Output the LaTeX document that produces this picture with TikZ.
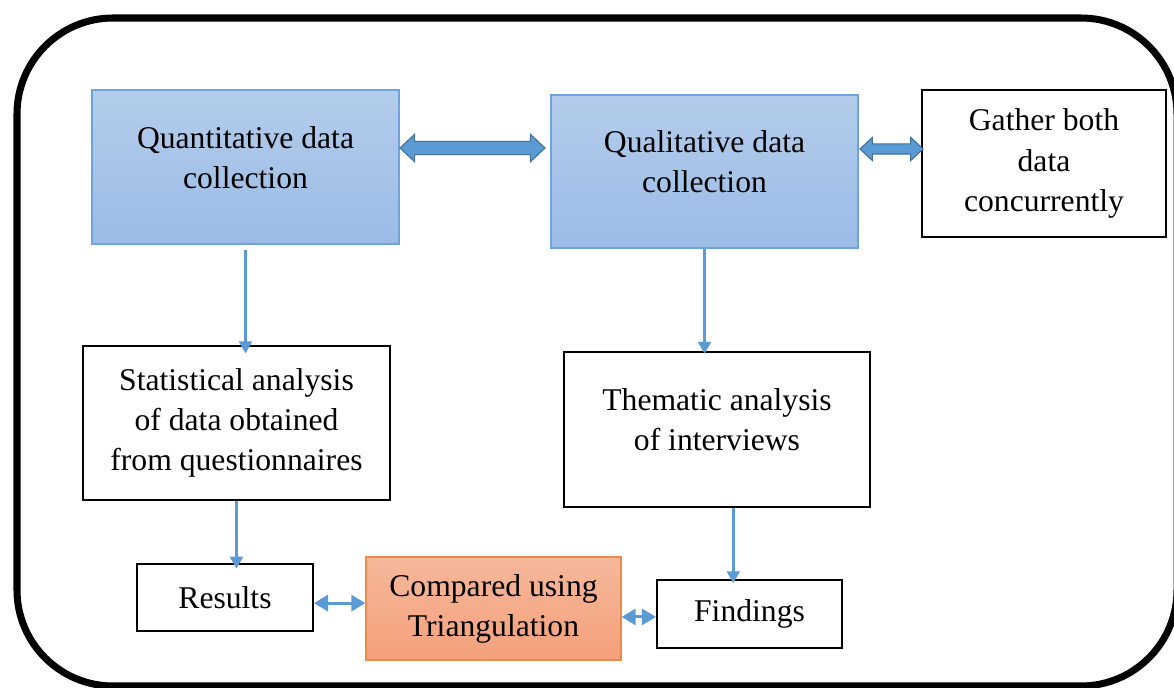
\documentclass[tikz,border=0pt]{standalone}
\usepackage{fontspec}
\setmainfont{Liberation Serif}
\usetikzlibrary{shapes.arrows,arrows.meta,calc}

\definecolor{linkblue}{HTML}{5B9BD5}
\definecolor{arrowedge}{HTML}{41719C}
\definecolor{boxblue}{HTML}{6FA3DB}
\definecolor{bluetop}{HTML}{B3CCEB}
\definecolor{bluebot}{HTML}{9BBCE6}
\definecolor{orangeedge}{HTML}{F08A48}
\definecolor{orangetop}{HTML}{F6B89A}
\definecolor{orangebot}{HTML}{F4A07C}

\begin{document}
\begin{tikzpicture}[x=0.025cm, y=-0.025cm]
\tikzstyle{basic}=[draw=black, line width=1.4pt, fill=white, align=center, inner sep=0pt, font=\fontsize{22.5}{28.5}\selectfont]
\tikzstyle{lifted}=[text depth=14pt]
\tikzstyle{collect}=[basic, lifted, draw=boxblue, line width=0.8pt, top color=bluetop, bottom color=bluebot]
\tikzstyle{compare}=[basic, draw=orangeedge, line width=0.8pt, top color=orangetop, bottom color=orangebot]
\tikzstyle{bigarrow}=[double arrow, draw=arrowedge, line width=0.8pt, fill=linkblue, inner xsep=0pt, inner ysep=4.3pt, double arrow head extend=5pt, double arrow tip angle=86]
\tikzstyle{smallarrow}=[bigarrow, inner ysep=3.2pt, double arrow head extend=4.6pt]
\tikzstyle{edgestyle}=[draw=linkblue, line width=2.1pt, -{Triangle[width=9pt, length=8.5pt]}]
\tikzstyle{bothstyle}=[draw=linkblue, line width=2.1pt, {Triangle[width=11.4pt, length=10pt]}-{Triangle[width=11.4pt, length=10pt]}]
\useasboundingbox (0,0) rectangle (1174,688);
\draw[line width=5pt, rounded corners=2.4cm] (17,18) rectangle (1177,686);

% top row
\node[collect, minimum width=7.675cm, minimum height=3.85cm] (quant) at (245.5,167) {Quantitative data\\collection};
\node[collect, minimum width=7.675cm, minimum height=3.825cm] (qual) at (704.5,171.5) {Qualitative data\\collection};
\node[basic, minimum width=6.1cm, minimum height=3.675cm] (gather) at (1044,163.5) {Gather both\\data\\concurrently};
\node[bigarrow, minimum height=3.625cm] (qq) at (472.5,148) {};
\node[smallarrow, minimum height=1.575cm] (qg) at (891.5,149) {};

% analysis
\node[basic, minimum width=7.675cm, minimum height=3.85cm] (stat) at (236.5,423) {Statistical analysis\\of data obtained\\from questionnaires};
\node[basic, lifted, minimum width=7.65cm, minimum height=3.875cm] (them) at (717,429.5) {Thematic analysis\\of interviews};
\draw (quant.south) edge[edgestyle, shorten <=4pt, shorten >=-6pt] (quant.south |- stat.north);
\draw (qual.south) edge[edgestyle, shorten >=-2pt] (qual.south |- them.north);

% bottom row
\node[basic, minimum width=4.4cm, minimum height=1.675cm] (results) at (225,597.5) {Results};
\node[compare, minimum width=6.375cm, minimum height=2.575cm] (compared) at (493.5,608.5) {Compared using\\Triangulation};
\node[basic, minimum width=4.625cm, minimum height=1.7cm] (findings) at (749.5,614) {Findings};
\draw (stat.south) edge[edgestyle, shorten >=-4pt] (stat.south |- results.north);
\draw ($(them.south)!.5!(them.south -| findings.north)$) edge[edgestyle, shorten >=-3pt] ($(findings.north)!.5!(findings.north -| them.south)$);
%\draw (results) edge[bothstyle] (compared);
\draw ([yshift=-4pt]results.east) edge[bothstyle] ([yshift=-4pt]results.east -| compared.west);
\draw ([yshift=-6pt]compared.east) edge[bothstyle] ([yshift=-6pt]compared.east -| findings.west);
\end{tikzpicture}
\end{document}
